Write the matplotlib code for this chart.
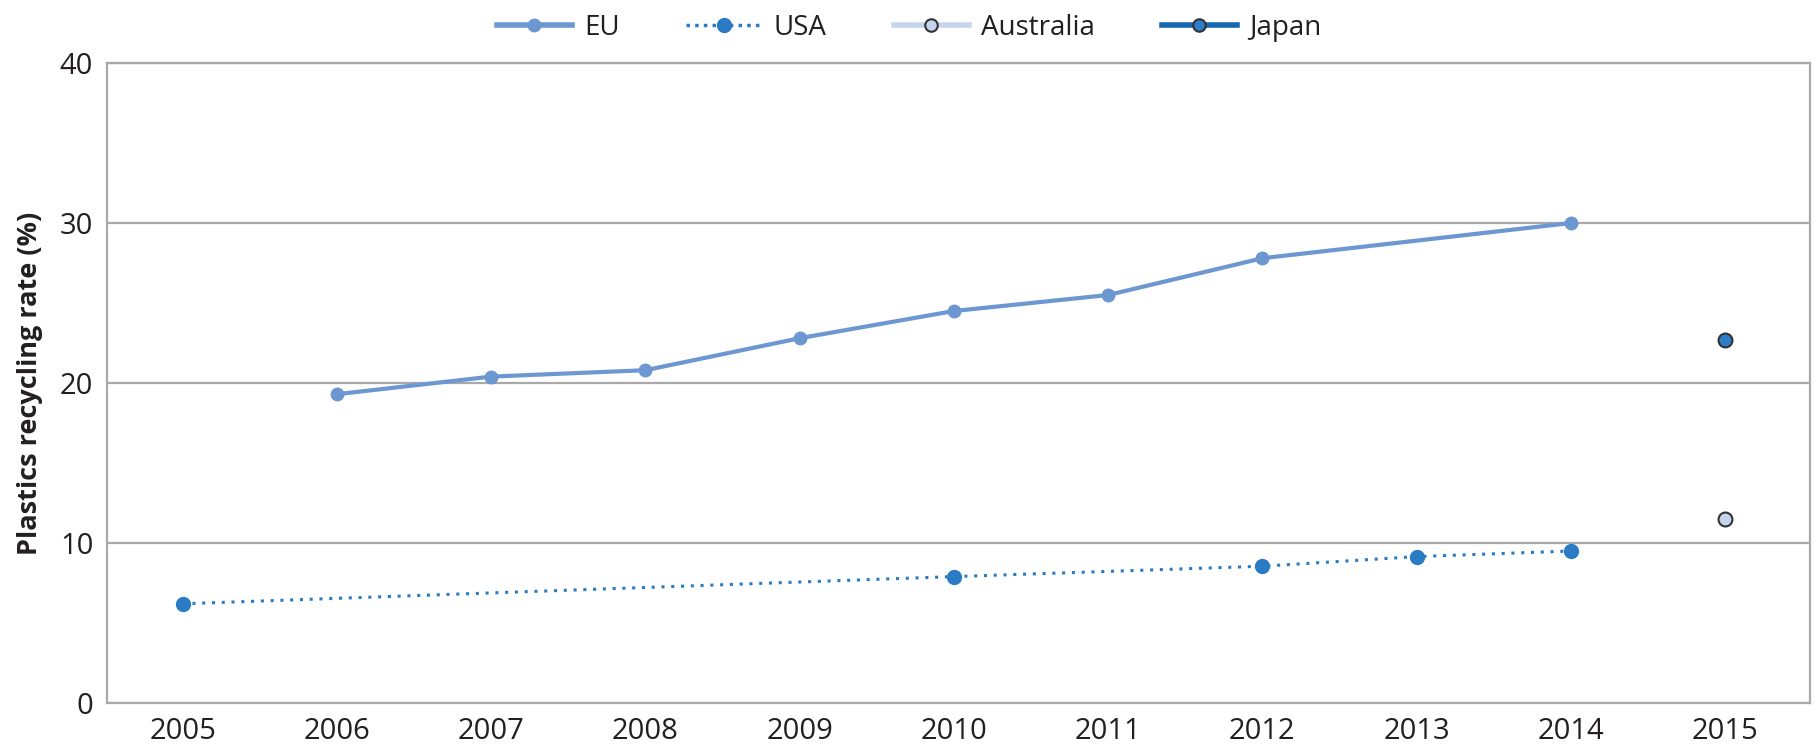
import matplotlib.pyplot as plt
from matplotlib.lines import Line2D

plt.rcParams['font.family'] = ['Open Sans', 'DejaVu Sans']

# Data
years = list(range(2005, 2016))
eu_years = [2006, 2007, 2008, 2009, 2010, 2011, 2012, 2014]
eu_rate = [19.3, 20.4, 20.8, 22.8, 24.5, 25.5, 27.8, 30.0]
usa_years = [2005, 2010, 2012, 2013, 2014]
usa_rate = [6.2, 7.9, 8.55, 9.15, 9.5]
aus_years = [2015]
aus_rate = [11.5]
jpn_years = [2015]
jpn_rate = [22.7]

c_eu = '#6c97d0'
c_usa = '#2a7bc4'
c_aus = '#c6d5ee'
c_jpn = '#2d7ec8'
c_jpn_leg = '#1666b0'
grid_c = '#a9a9a9'

fig = plt.figure(figsize=(18.18, 7.45), dpi=100)
ax = fig.add_axes([0.0589, 0.0564, 0.9367, 0.859])

ax.plot(eu_years, eu_rate, color=c_eu, lw=3, marker='o', ms=9, zorder=3)
ax.plot(usa_years, usa_rate, color=c_usa, lw=2.2, ls=(0, (1, 2.2)), marker='o', ms=10, zorder=3)
ax.plot(aus_years, aus_rate, ls='none', marker='o', ms=10, mfc=c_aus, mec='#333333', mew=1.5, zorder=4)
ax.plot(jpn_years, jpn_rate, ls='none', marker='o', ms=10, mfc=c_jpn, mec='#333333', mew=1.5, zorder=4)

ax.set_xlim(2004.51, 2015.55)
ax.set_ylim(0, 40)
ax.set_yticks([0, 10, 20, 30, 40])
ax.set_xticks(years)
ax.yaxis.grid(True, color=grid_c, lw=1.6)
ax.set_axisbelow(True)
for s in ax.spines.values():
    s.set_color(grid_c)
    s.set_linewidth(1.6)
ax.tick_params(length=0, labelsize=21, colors='#231f20', pad=10)
ax.set_ylabel('Plastics recycling rate (%)', fontsize=19.5, fontweight='bold', color='#231f20', labelpad=12)

handles = [
    Line2D([], [], color=c_eu, lw=4, marker='o', ms=9),
    Line2D([], [], color=c_usa, lw=2.5, ls=(0, (1, 1.5)), marker='o', ms=10),
    Line2D([], [], color=c_aus, lw=4, marker='o', ms=9, mfc=c_aus, mec='#333333', mew=1.5),
    Line2D([], [], color=c_jpn_leg, lw=4, marker='o', ms=9, mfc=c_jpn, mec='#333333', mew=1.5),
]
fig.legend(handles, ['EU', 'USA', 'Australia', 'Japan'], loc='upper center',
           bbox_to_anchor=(0.5, 1.015), ncol=4, frameon=False, fontsize=20,
           handlelength=2.7, handletextpad=0.45, columnspacing=2.4, labelcolor='#231f20')

fig.savefig('out.png', dpi=100)
